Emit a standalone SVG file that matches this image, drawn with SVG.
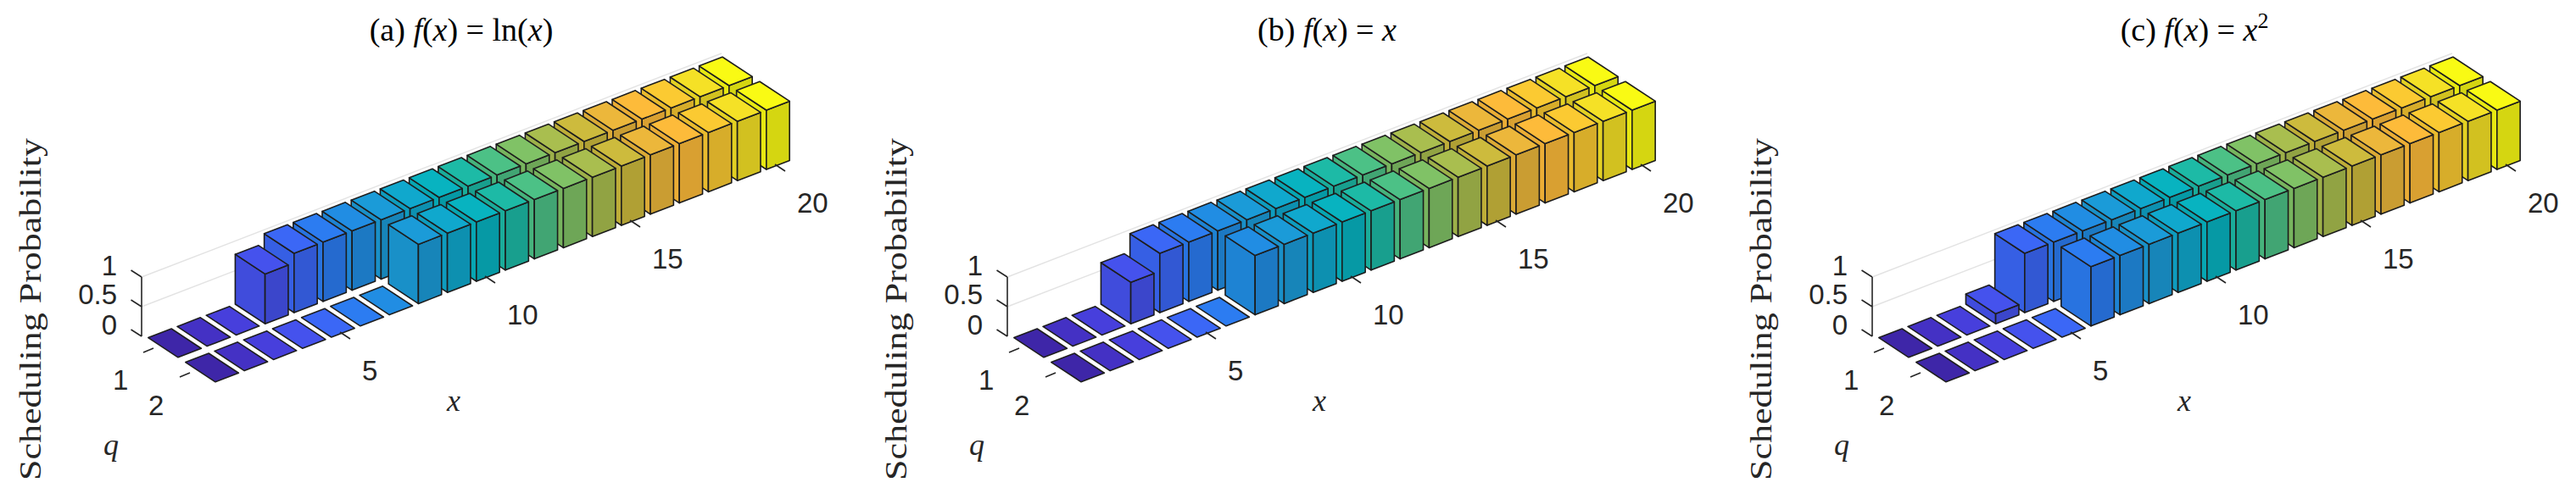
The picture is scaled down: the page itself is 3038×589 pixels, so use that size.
<svg xmlns="http://www.w3.org/2000/svg" xmlns:xlink="http://www.w3.org/1999/xlink" width="3038" height="589" viewBox="0 0 3038 589">
<style>
.tt{font-family:"Liberation Serif",serif;font-size:38px;fill:#000}
.it{font-style:italic}
.tk{font-family:"Liberation Sans",Arial,sans-serif;font-size:33px;fill:#262626}
.al{font-family:"Liberation Serif",serif;font-size:36px;fill:#262626}
.ax{stroke:#262626;stroke-width:1.6;fill:none}
.gr{stroke:#e3e3e3;stroke-width:1.4;fill:none}
.f{fill:currentColor;stroke:#1e1e1e;stroke-width:1.6;stroke-linejoin:round}
.s1{fill:#000;fill-opacity:.07;stroke:none}
.s2{fill:#000;fill-opacity:.14;stroke:none}
.c1{color:#3e26a8}.c2{color:#4431c4}.c3{color:#473fdc}.c4{color:#4552ed}.c5{color:#3b67f6}
.c6{color:#2c7cf1}.c7{color:#218de3}.c8{color:#1b9bd8}.c9{color:#10a8cd}.c10{color:#08b3c0}
.c11{color:#1dbaa6}.c12{color:#4cc186}.c13{color:#80c266}.c14{color:#a9be4f}.c15{color:#cdbb3d}
.c16{color:#ecb73b}.c17{color:#fdbb3a}.c18{color:#fbca32}.c19{color:#f5e126}.c20{color:#f9fa14}
</style>
<defs>
<g id="b0"><path class="f" d="M0,0 L27.36,-10.56 L62.56,12.64 L35.2,23.2 Z"/></g>
<g id="b1">
<path class="f" d="M0,0 L35.2,23.2 L35.2,-46.8 L0,-70 Z"/><path class="s1" d="M0,0 L35.2,23.2 L35.2,-46.8 L0,-70 Z"/>
<path class="f" d="M35.2,23.2 L62.56,12.64 L62.56,-57.36 L35.2,-46.8 Z"/><path class="s2" d="M35.2,23.2 L62.56,12.64 L62.56,-57.36 L35.2,-46.8 Z"/>
<path class="f" d="M0,-70 L27.36,-80.56 L62.56,-57.36 L35.2,-46.8 Z"/>
</g>
<g id="ba">
<path class="f" d="M0,0 L35.2,23.2 L35.2,-35.6 L0,-58.8 Z"/><path class="s1" d="M0,0 L35.2,23.2 L35.2,-35.6 L0,-58.8 Z"/>
<path class="f" d="M35.2,23.2 L62.56,12.64 L62.56,-46.16 L35.2,-35.6 Z"/><path class="s2" d="M35.2,23.2 L62.56,12.64 L62.56,-46.16 L35.2,-35.6 Z"/>
<path class="f" d="M0,-58.8 L27.36,-69.36 L62.56,-46.16 L35.2,-35.6 Z"/>
</g>
<g id="bb">
<path class="f" d="M0,0 L35.2,23.2 L35.2,-25.8 L0,-49 Z"/><path class="s1" d="M0,0 L35.2,23.2 L35.2,-25.8 L0,-49 Z"/>
<path class="f" d="M35.2,23.2 L62.56,12.64 L62.56,-36.36 L35.2,-25.8 Z"/><path class="s2" d="M35.2,23.2 L62.56,12.64 L62.56,-36.36 L35.2,-25.8 Z"/>
<path class="f" d="M0,-49 L27.36,-59.56 L62.56,-36.36 L35.2,-25.8 Z"/>
</g>
<g id="bc">
<path class="f" d="M0,0 L35.2,23.2 L35.2,11.3 L0,-11.9 Z"/><path class="s1" d="M0,0 L35.2,23.2 L35.2,11.3 L0,-11.9 Z"/>
<path class="f" d="M35.2,23.2 L62.56,12.64 L62.56,0.74 L35.2,11.3 Z"/><path class="s2" d="M35.2,23.2 L62.56,12.64 L62.56,0.74 L35.2,11.3 Z"/>
<path class="f" d="M0,-11.9 L27.36,-22.46 L62.56,0.74 L35.2,11.3 Z"/>
</g>
<g id="axes">
<path class="gr" d="M167,362 L851,98 M167,327 L851,63"/>
</g>
<g id="axfront">
<path class="ax" d="M167,397 V327 M167,397 l-12.5,-8 M167,362 l-12.5,-8 M167,327 l-12.5,-8"/>
<path class="ax" d="M181,411 l-12,5 M224,440 l-12,5"/>
<path class="ax" d="M401,392 l12,8 M572,326 l12,8 M743,260 l12,8 M914,194 l12,8"/>
<text class="tk" x="138" y="395" text-anchor="end">0</text>
<text class="tk" x="138" y="359" text-anchor="end">0.5</text>
<text class="tk" x="138" y="325" text-anchor="end">1</text>
<text class="tk" x="133" y="460">1</text>
<text class="tk" x="175" y="490">2</text>
<text class="tk" x="427" y="449">5</text>
<text class="tk" x="598" y="383">10</text>
<text class="tk" x="769" y="317">15</text>
<text class="tk" x="940" y="251">20</text>
<text class="al it" x="527" y="485">x</text>
<text class="al it" x="122" y="537">q</text>
<text class="al" transform="translate(48,365) rotate(-90)" text-anchor="middle" textLength="404" lengthAdjust="spacingAndGlyphs">Scheduling Probability</text>
</g>
</defs>

<g id="panel-a">
<text class="tt" x="544" y="48" text-anchor="middle">(a) <tspan class="it">f</tspan>(<tspan class="it">x</tspan>) = ln(<tspan class="it">x</tspan>)</text>
<use href="#axes"/>
<g id="bars-a" transform="translate(171.4,399.9)">
<use href="#b1" x="653.2" y="-252.1" class="c20"/><use href="#b1" x="697.2" y="-223.1" class="c20"/>
<use href="#b1" x="619" y="-238.9" class="c19"/><use href="#b1" x="663" y="-209.9" class="c19"/>
<use href="#b1" x="584.8" y="-225.7" class="c18"/><use href="#b1" x="628.8" y="-196.7" class="c18"/>
<use href="#b1" x="550.6" y="-212.5" class="c17"/><use href="#b1" x="594.6" y="-183.5" class="c17"/>
<use href="#b1" x="516.4" y="-199.3" class="c16"/><use href="#b1" x="560.4" y="-170.3" class="c16"/>
<use href="#b1" x="482.2" y="-186.1" class="c15"/><use href="#b1" x="526.2" y="-157.1" class="c15"/>
<use href="#b1" x="448" y="-172.9" class="c14"/><use href="#b1" x="492" y="-143.9" class="c14"/>
<use href="#b1" x="413.8" y="-159.7" class="c13"/><use href="#b1" x="457.8" y="-130.7" class="c13"/>
<use href="#b1" x="379.6" y="-146.5" class="c12"/><use href="#b1" x="423.6" y="-117.5" class="c12"/>
<use href="#b1" x="345.4" y="-133.3" class="c11"/><use href="#b1" x="389.4" y="-104.3" class="c11"/>
<use href="#b1" x="311.2" y="-120.1" class="c10"/><use href="#b1" x="355.2" y="-91.1" class="c10"/>
<use href="#b1" x="277" y="-106.9" class="c9"/><use href="#b1" x="321" y="-77.9" class="c9"/>
<use href="#b1" x="242.8" y="-93.7" class="c8"/><use href="#b1" x="286.8" y="-64.7" class="c8"/>
<use href="#b1" x="208.6" y="-80.5" class="c7"/><use href="#b0" x="252.6" y="-51.5" class="c7"/>
<use href="#b1" x="174.4" y="-67.3" class="c6"/><use href="#b0" x="218.4" y="-38.3" class="c6"/>
<use href="#b1" x="140.2" y="-54.1" class="c5"/><use href="#b0" x="184.2" y="-25.1" class="c5"/>
<use href="#ba" x="106" y="-40.9" class="c4"/><use href="#b0" x="150" y="-11.9" class="c4"/>
<use href="#b0" x="71.8" y="-27.7" class="c3"/><use href="#b0" x="115.8" y="1.3" class="c3"/>
<use href="#b0" x="37.6" y="-14.5" class="c2"/><use href="#b0" x="81.6" y="14.5" class="c2"/>
<use href="#b0" x="3.4" y="-1.3" class="c1"/><use href="#b0" x="47.4" y="27.7" class="c1"/>
</g>
<use href="#axfront"/>
</g>

<g id="panel-b" transform="translate(1021,0)">
<text class="tt" x="544" y="48" text-anchor="middle">(b) <tspan class="it">f</tspan>(<tspan class="it">x</tspan>) = <tspan class="it">x</tspan></text>
<use href="#axes"/>
<g id="bars-b" transform="translate(171.4,399.9)">
<use href="#b1" x="653.2" y="-252.1" class="c20"/><use href="#b1" x="697.2" y="-223.1" class="c20"/>
<use href="#b1" x="619" y="-238.9" class="c19"/><use href="#b1" x="663" y="-209.9" class="c19"/>
<use href="#b1" x="584.8" y="-225.7" class="c18"/><use href="#b1" x="628.8" y="-196.7" class="c18"/>
<use href="#b1" x="550.6" y="-212.5" class="c17"/><use href="#b1" x="594.6" y="-183.5" class="c17"/>
<use href="#b1" x="516.4" y="-199.3" class="c16"/><use href="#b1" x="560.4" y="-170.3" class="c16"/>
<use href="#b1" x="482.2" y="-186.1" class="c15"/><use href="#b1" x="526.2" y="-157.1" class="c15"/>
<use href="#b1" x="448" y="-172.9" class="c14"/><use href="#b1" x="492" y="-143.9" class="c14"/>
<use href="#b1" x="413.8" y="-159.7" class="c13"/><use href="#b1" x="457.8" y="-130.7" class="c13"/>
<use href="#b1" x="379.6" y="-146.5" class="c12"/><use href="#b1" x="423.6" y="-117.5" class="c12"/>
<use href="#b1" x="345.4" y="-133.3" class="c11"/><use href="#b1" x="389.4" y="-104.3" class="c11"/>
<use href="#b1" x="311.2" y="-120.1" class="c10"/><use href="#b1" x="355.2" y="-91.1" class="c10"/>
<use href="#b1" x="277" y="-106.9" class="c9"/><use href="#b1" x="321" y="-77.9" class="c9"/>
<use href="#b1" x="242.8" y="-93.7" class="c8"/><use href="#b1" x="286.8" y="-64.7" class="c8"/>
<use href="#b1" x="208.6" y="-80.5" class="c7"/><use href="#b1" x="252.6" y="-51.5" class="c7"/>
<use href="#b1" x="174.4" y="-67.3" class="c6"/><use href="#b0" x="218.4" y="-38.3" class="c6"/>
<use href="#b1" x="140.2" y="-54.1" class="c5"/><use href="#b0" x="184.2" y="-25.1" class="c5"/>
<use href="#bb" x="106" y="-40.9" class="c4"/><use href="#b0" x="150" y="-11.9" class="c4"/>
<use href="#b0" x="71.8" y="-27.7" class="c3"/><use href="#b0" x="115.8" y="1.3" class="c3"/>
<use href="#b0" x="37.6" y="-14.5" class="c2"/><use href="#b0" x="81.6" y="14.5" class="c2"/>
<use href="#b0" x="3.4" y="-1.3" class="c1"/><use href="#b0" x="47.4" y="27.7" class="c1"/>
</g>
<use href="#axfront"/>
</g>

<g id="panel-c" transform="translate(2041,0)">
<text class="tt" x="547" y="48" text-anchor="middle">(c) <tspan class="it">f</tspan>(<tspan class="it">x</tspan>) = <tspan class="it">x</tspan><tspan font-size="26" dy="-15">2</tspan></text>
<use href="#axes"/>
<g id="bars-c" transform="translate(171.4,399.9)">
<use href="#b1" x="653.2" y="-252.1" class="c20"/><use href="#b1" x="697.2" y="-223.1" class="c20"/>
<use href="#b1" x="619" y="-238.9" class="c19"/><use href="#b1" x="663" y="-209.9" class="c19"/>
<use href="#b1" x="584.8" y="-225.7" class="c18"/><use href="#b1" x="628.8" y="-196.7" class="c18"/>
<use href="#b1" x="550.6" y="-212.5" class="c17"/><use href="#b1" x="594.6" y="-183.5" class="c17"/>
<use href="#b1" x="516.4" y="-199.3" class="c16"/><use href="#b1" x="560.4" y="-170.3" class="c16"/>
<use href="#b1" x="482.2" y="-186.1" class="c15"/><use href="#b1" x="526.2" y="-157.1" class="c15"/>
<use href="#b1" x="448" y="-172.9" class="c14"/><use href="#b1" x="492" y="-143.9" class="c14"/>
<use href="#b1" x="413.8" y="-159.7" class="c13"/><use href="#b1" x="457.8" y="-130.7" class="c13"/>
<use href="#b1" x="379.6" y="-146.5" class="c12"/><use href="#b1" x="423.6" y="-117.5" class="c12"/>
<use href="#b1" x="345.4" y="-133.3" class="c11"/><use href="#b1" x="389.4" y="-104.3" class="c11"/>
<use href="#b1" x="311.2" y="-120.1" class="c10"/><use href="#b1" x="355.2" y="-91.1" class="c10"/>
<use href="#b1" x="277" y="-106.9" class="c9"/><use href="#b1" x="321" y="-77.9" class="c9"/>
<use href="#b1" x="242.8" y="-93.7" class="c8"/><use href="#b1" x="286.8" y="-64.7" class="c8"/>
<use href="#b1" x="208.6" y="-80.5" class="c7"/><use href="#b1" x="252.6" y="-51.5" class="c7"/>
<use href="#b1" x="174.4" y="-67.3" class="c6"/><use href="#b1" x="218.4" y="-38.3" class="c6"/>
<use href="#b1" x="140.2" y="-54.1" class="c5"/><use href="#b0" x="184.2" y="-25.1" class="c5"/>
<use href="#bc" x="106" y="-40.9" class="c4"/><use href="#b0" x="150" y="-11.9" class="c4"/>
<use href="#b0" x="71.8" y="-27.7" class="c3"/><use href="#b0" x="115.8" y="1.3" class="c3"/>
<use href="#b0" x="37.6" y="-14.5" class="c2"/><use href="#b0" x="81.6" y="14.5" class="c2"/>
<use href="#b0" x="3.4" y="-1.3" class="c1"/><use href="#b0" x="47.4" y="27.7" class="c1"/>
</g>
<use href="#axfront"/>
</g>
</svg>
